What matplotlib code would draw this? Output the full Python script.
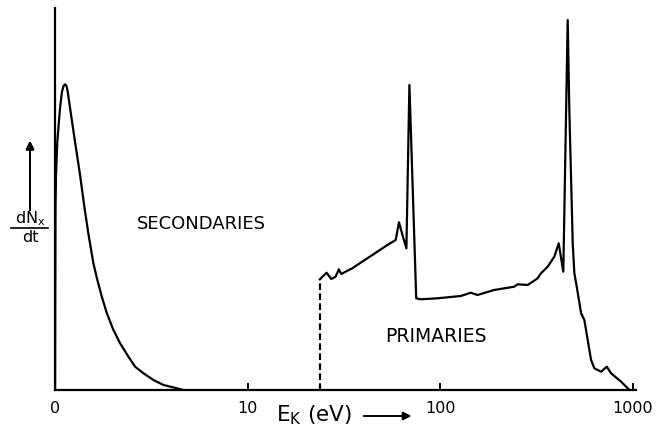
import matplotlib
matplotlib.use("Agg")
import matplotlib.pyplot as plt
from matplotlib.lines import Line2D

# secondary electrons (E in eV, axis "0" is drawn at E = 1)
sec_E = [1.001, 1.003, 1.006, 1.012, 1.028, 1.062, 1.087, 1.107, 1.127, 1.148,
         1.164, 1.197, 1.270, 1.349, 1.423, 1.494, 1.582, 1.659, 1.750, 1.858,
         2.010, 2.177, 2.405, 2.606, 2.879, 3.243, 3.655, 4.649]
sec_y = [0, 90, 182, 215, 248.3, 282, 298.3, 304, 305.7, 304,
         298.3, 282, 248.3, 215, 182, 155, 126.7, 110, 93.3, 76.7,
         60, 46.7, 33.3, 23.3, 16.7, 10, 5, 0]

# primaries
edge_E = 23.69
edge_y = 110.7
pri_E = [23.69, 25.67, 27.15, 28.58, 29.74, 30.60, 32.22, 34.91, 38.56, 41.78,
         47.10, 53.08, 58.64, 60.99, 64.29, 66.64, 69.08, 74.93, 79.08, 96.58,
         127.7, 143.9, 155.9, 190.2, 241.7, 251.7, 283.8, 319.8, 332.7, 360.5,
         390.3, 411.4, 434.6, 458.0, 467.0, 476.6, 486.3, 495.8, 510.3, 537.2,
         558.9, 605.5, 630.0, 682.6, 730.7, 769.3, 867.2, 957.9]
pri_y = [110.7, 117.3, 111, 113.3, 120.7, 116, 118.3, 121.7, 127.3, 131.7,
         138.3, 145, 150, 167.7, 151.7, 141.7, 305, 91.7, 90.7, 91.7,
         94, 97.3, 95, 100, 103.3, 105.7, 105, 111.7, 116.7, 123.3,
         133.3, 146.7, 118.3, 370, 280, 213.3, 147, 117, 103.3, 77,
         70, 30, 21.7, 18.3, 23.3, 16.7, 8.3, 0]

xticks = [1, 10, 100, 1000]
xticklabels = ["0", "10", "100", "1000"]

W, H = 667, 433
fig = plt.figure(figsize=(W / 100, H / 100), dpi=100)
ax = fig.add_axes([55 / W, (H - 390) / H, (636 - 55) / W, (390 - 8) / H])

lw = 1.6
ax.plot(sec_E, sec_y, color="black", lw=lw)
ax.plot(pri_E, pri_y, color="black", lw=lw)
ax.plot([edge_E, edge_E], [0, edge_y], color="black", lw=lw, ls=(0, (3, 1.5)))

ax.set_xscale("log")
ax.set_xlim(1, 1036)
ax.set_ylim(0, 382)
ax.spines["top"].set_visible(False)
ax.spines["right"].set_visible(False)
ax.spines["left"].set_linewidth(lw)
ax.spines["bottom"].set_linewidth(lw)
ax.set_yticks([])
ax.set_xticks(xticks, xticklabels)
ax.minorticks_off()
ax.tick_params(axis="x", direction="in", length=5, width=1.4, pad=8, labelsize=11.5)

def fx(x):
    return x / W

def fy(y):
    return 1 - y / H

fig.text(fx(201), fy(224), "SECONDARIES", ha="center", va="center", fontsize=13)
fig.text(fx(436), fy(336), "PRIMARIES", ha="center", va="center", fontsize=13.5)

# x axis label with arrow
fig.text(fx(314), fy(415), r"E$_\mathregular{K}$ (eV)", ha="center", va="center", fontsize=15.5)
fig.add_artist(plt.annotate("", xy=(fx(414), fy(416)), xytext=(fx(361), fy(416)),
                            xycoords="figure fraction", textcoords="figure fraction",
                            arrowprops=dict(arrowstyle="-|>", color="black", lw=1.2,
                                            mutation_scale=12)))

# y axis label: arrow and dN_x / dt
fig.add_artist(plt.annotate("", xy=(fx(30), fy(138)), xytext=(fx(30), fy(213)),
                            xycoords="figure fraction", textcoords="figure fraction",
                            arrowprops=dict(arrowstyle="-|>", color="black", lw=1.4,
                                            mutation_scale=12)))
fig.text(fx(30), fy(219), r"dN$_\mathregular{x}$", ha="center", va="center", fontsize=11.5)
fig.add_artist(Line2D([fx(11), fx(48)], [fy(228), fy(228)], color="black", lw=1.2,
                      transform=fig.transFigure))
fig.text(fx(30), fy(237), "dt", ha="center", va="center", fontsize=11.5)

plt.savefig("out.png", dpi=100)
